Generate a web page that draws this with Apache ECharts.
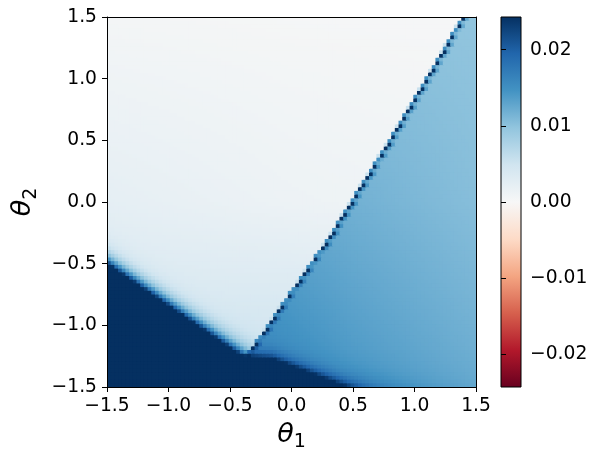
<!DOCTYPE html>
<html>
<head>
<meta charset="utf-8">
<script src="https://cdn.jsdelivr.net/npm/echarts@6/dist/echarts.min.js"></script>
<style>
  html, body { margin: 0; padding: 0; background: #fff; }
  #chart { width: 603px; height: 463px; }
</style>
</head>
<body>
<div id="chart"></div>
<script>
// ---------------- data ----------------
const thetaTicks = [-1.5, -1.0, -0.5, 0.0, 0.5, 1.0, 1.5];
const colorbarTicks = [-0.02, -0.01, 0.00, 0.01, 0.02];
const colorLimit = 0.0243;               // colour scale runs -0.0243 .. 0.0243
const cellsPerSide = 100;                // 100 x 100 grid of theta values
const thetaRange = [-1.5, 1.5];

// boundary of the saturated (dark) basin, upper-left side: [theta1, theta2]
const lowerLeftEdge = [[-1.5, -0.511], [-0.392, -1.267]];
// boundary of the saturated basin, lower-right side
const lowerRightEdge = [[-0.392, -1.267], [-0.15, -1.29], [0.394, -1.50]];
// sharp ridge separating the pale region from the blue region
const ridgeEdge = [[-0.39, -1.28], [-0.29, -1.15], [0.297, -0.308], [0.806, 0.503], [1.40, 1.50]];

// value levels of the pale (upper-left) region, rows = theta2, cols = theta1
const paleTheta1 = [-1.5, 0.0, 1.5];
const paleTheta2 = [-1.5, 0.0, 1.5];
const paleValues = [
  [0.0050, 0.0060, 0.0040],
  [0.0023, 0.0013, 0.0008],
  [0.0005, 0.0003, 0.0002]
];
// value levels of the blue (right) region
const blueTheta1 = [-0.5, 0.5, 1.5];
const blueTheta2 = [-1.5, 0.0, 1.5];
const blueValues = [
  [0.0170, 0.0142, 0.0122],
  [0.0130, 0.0117, 0.0104],
  [0.0104, 0.0101, 0.0097]
];
const basinValue = 0.03;                 // beyond the colour limit (saturated)
const ridgeMidValue = 0.0150;            // ridge cells that are not saturated
const paleBlur = 0.065;                  // fall-off above the upper-left basin edge
const blueBlur = [[-0.39, 0.04], [0.4, 0.06], [1.5, 0.12]]; // fall-off above lower-right edge

const RdBu = ['#67001f', '#b2182b', '#d6604d', '#f4a582', '#fddbc7', '#f7f7f7',
              '#d1e5f0', '#92c5de', '#4393c3', '#2166ac', '#053061'];

// ---------------- helpers ----------------
function interp(points, x) {           // points sorted by first coord
  let i = 0;
  if (x <= points[0][0]) i = 0;
  else if (x >= points[points.length - 1][0]) i = points.length - 2;
  else { while (x > points[i + 1][0]) i++; }
  const [x0, y0] = points[i], [x1, y1] = points[i + 1];
  return y0 + (y1 - y0) * (x - x0) / (x1 - x0);
}
function bilinear(xs, ys, grid, x, y) {
  const row = ys.map((_, r) => interp(xs.map((xx, c) => [xx, grid[r][c]]), x));
  return interp(ys.map((yy, r) => [yy, row[r]]), y);
}
const ridgeByTheta2 = ridgeEdge.map(p => [p[1], p[0]]);

const cell = (thetaRange[1] - thetaRange[0]) / cellsPerSide;
const heatData = [];
for (let j = 0; j < cellsPerSide; j++) {
  const t2 = thetaRange[0] + cell * (j + 0.5);
  const xb = interp(ridgeByTheta2, t2);
  const pos = (xb - thetaRange[0]) / cell;
  const ib = Math.floor(pos), frac = pos - ib;
  for (let i = 0; i < cellsPerSide; i++) {
    const t1 = thetaRange[0] + cell * (i + 0.5);
    const pale = () => {
      const edge = interp(lowerLeftEdge, t1);
      if (t2 < edge) return basinValue;
      const b = bilinear(paleTheta1, paleTheta2, paleValues, t1, t2);
      return b + (basinValue - b) * Math.exp(-(t2 - edge) / paleBlur);
    };
    const blue = () => {
      const edge = interp(lowerRightEdge, t1);
      if (t2 < edge) return basinValue;
      const b = bilinear(blueTheta1, blueTheta2, blueValues, t1, t2);
      const w = interp(blueBlur, t1);
      return b + (basinValue - b) * Math.exp(-(t2 - edge) / w);
    };
    let v;
    if (i < ib) {
      v = pale();
      if (i === ib - 1 && frac < 0.2) v = Math.max(v, 0.0055);
    } else if (i > ib) {
      v = blue();
      if (i === ib + 1) v += frac < 0.55 ? 0.0028 : 0.0012;
    } else {
      v = frac < 0.55 ? basinValue : Math.max(ridgeMidValue, blue());
      if (t2 < interp(lowerLeftEdge, t1)) v = basinValue;
    }
    v = Math.max(-colorLimit, Math.min(colorLimit, v));
    heatData.push([t1, t2, v]);
  }
}

// ---------------- chart ----------------
const FONT = 'DejaVu Sans';
const minus = s => s.replace('-', '\u2212');
const chart = echarts.init(document.getElementById('chart'), null, { renderer: 'canvas' });

const nameRich = {
  a: { fontSize: 27, fontStyle: 'italic', fontFamily: FONT, color: '#000', padding: [0, 0, 4, 0], verticalAlign: 'bottom' },
  b: { fontSize: 19, fontFamily: FONT, color: '#000', verticalAlign: 'bottom' }
};

const option = {
  animation: false,
  backgroundColor: '#fff',
  textStyle: { fontFamily: FONT },
  grid: [
    { left: 107, top: 17, width: 369, height: 370 },
    { left: 501, top: 17, width: 20, height: 370 }
  ],
  visualMap: {
    type: 'continuous', show: false, seriesIndex: 0, dimension: 2,
    min: -colorLimit, max: colorLimit, inRange: { color: RdBu }
  },
  xAxis: [
    {
      gridIndex: 0, type: 'value', min: thetaTicks[0], max: thetaTicks[thetaTicks.length - 1], interval: 0.5,
      position: 'bottom', z: 10,
      axisLine: { show: true, onZero: false, lineStyle: { color: '#000', width: 1 } },
      axisTick: { show: true, length: 5, lineStyle: { color: '#000', width: 1 } },
      axisLabel: { fontSize: 18.7, color: '#000', fontFamily: FONT, margin: 10, formatter: v => minus(v.toFixed(1)) },
      splitLine: { show: false },
      name: '{a|θ}{b|1}', nameLocation: 'middle', nameGap: 34,
      nameTextStyle: { rich: nameRich }
    },
    {
      gridIndex: 0, type: 'value', min: -1.5, max: 1.5, position: 'top', z: 10,
      axisLine: { show: true, onZero: false, lineStyle: { color: '#000', width: 1 } },
      axisTick: { show: false }, axisLabel: { show: false }, splitLine: { show: false }
    },
    { gridIndex: 1, type: 'value', min: 0, max: 1, show: false }
  ],
  yAxis: [
    {
      gridIndex: 0, type: 'value', min: thetaTicks[0], max: thetaTicks[thetaTicks.length - 1], interval: 0.5,
      position: 'left', z: 10,
      axisLine: { show: true, onZero: false, lineStyle: { color: '#000', width: 1 } },
      axisTick: { show: true, length: 5, lineStyle: { color: '#000', width: 1 } },
      axisLabel: { fontSize: 18.7, color: '#000', fontFamily: FONT, margin: 10, formatter: v => minus(v.toFixed(1)) },
      splitLine: { show: false },
      name: '{a|θ}{b|2}', nameLocation: 'middle', nameGap: 64, nameRotate: 90,
      nameTextStyle: { rich: nameRich }
    },
    {
      gridIndex: 0, type: 'value', min: -1.5, max: 1.5, position: 'right', z: 10,
      axisLine: { show: true, onZero: false, lineStyle: { color: '#000', width: 1 } },
      axisTick: { show: false }, axisLabel: { show: false }, splitLine: { show: false }
    },
    {
      gridIndex: 1, type: 'value', min: -colorLimit, max: colorLimit, position: 'right', z: 10,
      axisLine: { show: false },
      axisTick: { show: true, length: 5, lineStyle: { color: '#000', width: 1 }, customValues: colorbarTicks },
      axisLabel: { fontSize: 18.7, color: '#000', fontFamily: FONT, margin: 9, customValues: colorbarTicks,
                   formatter: v => minus(Number(v).toFixed(2)) },
      splitLine: { show: false }
    }
  ],
  series: [
    {
      type: 'custom', xAxisIndex: 0, yAxisIndex: 0, silent: true, progressive: 0, clip: true,
      encode: { x: 0, y: 1 },
      data: heatData,
      renderItem: function (params, api) {
        const c = api.coord([api.value(0), api.value(1)]);
        const s = api.size([cell, cell]);
        // cells are drawn left-to-right, bottom-to-top: overlap the next ones by 1px to avoid seams
        return {
          type: 'rect',
          shape: { x: c[0] - s[0] / 2, y: c[1] - s[1] / 2 - 1, width: s[0] + 1, height: s[1] + 1 },
          style: { fill: api.visual('color') }
        };
      }
    },
    {
      type: 'custom', xAxisIndex: 2, yAxisIndex: 2, silent: true,
      data: [[0, -colorLimit, 1, colorLimit]],
      renderItem: function (params, api) {
        const p0 = api.coord([api.value(0), api.value(3)]);
        const p1 = api.coord([api.value(2), api.value(1)]);
        const stops = RdBu.slice().reverse().map((col, k) => ({ offset: k / (RdBu.length - 1), color: col }));
        return {
          type: 'rect',
          shape: { x: p0[0], y: p0[1], width: p1[0] - p0[0], height: p1[1] - p0[1] },
          style: {
            fill: { type: 'linear', x: 0, y: 0, x2: 0, y2: 1, colorStops: stops },
            stroke: '#000', lineWidth: 1
          }
        };
      }
    }
  ]
};
chart.setOption(option);
</script>
</body>
</html>
